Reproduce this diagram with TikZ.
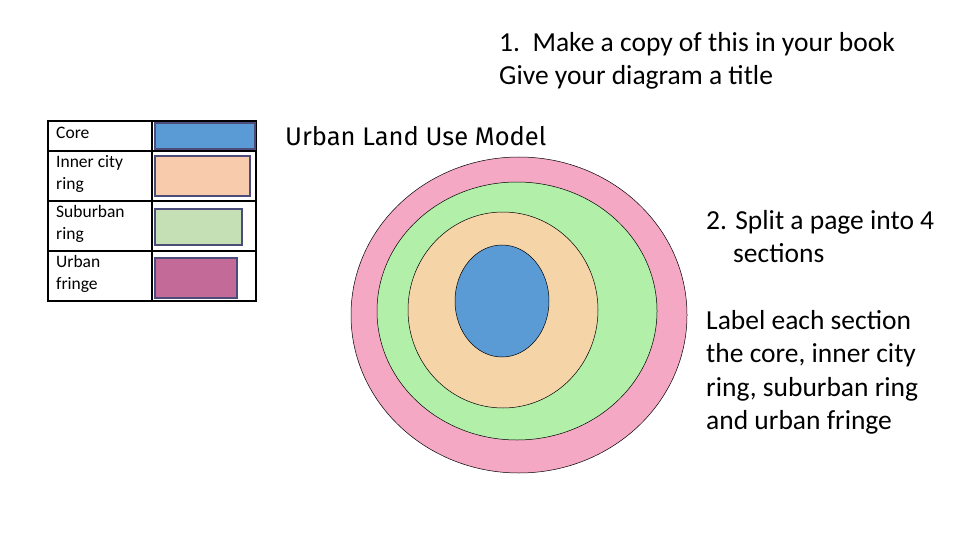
\documentclass[tikz,border=0pt]{standalone}
\usepackage{fontspec}
\setmainfont{Carlito}
\newfontfamily\titlefont{Fira Sans}
\begin{document}
\begin{tikzpicture}[x=1pt,y=-1pt,
  sw/.style={draw=black!55!blue!40!gray,line width=1.5pt},
  ring/.style={draw=black,line width=0.5pt},
  lg/.style={anchor=north west,font=\fontsize{17.5}{22}\selectfont,align=left,inner sep=0pt},
  big/.style={anchor=north west,font=\fontsize{27.5}{33.5}\selectfont,align=left,inner sep=0pt}]
\useasboundingbox (0,0) rectangle (960,540);
% legend
\draw[line width=1.2pt] (48,121) rectangle (256,301);
\draw[line width=1.2pt] (152,121) -- (152,301);
\foreach \yy in {151,201,251} \draw[line width=1.2pt] (48,\yy) -- (256,\yy);
\draw[sw,fill={rgb,255:red,91;green,155;blue,213}] (155,123) rectangle (255,149);
\draw[sw,fill={rgb,255:red,247;green,203;blue,172}] (155,156) rectangle (250,196);
\draw[sw,fill={rgb,255:red,197;green,224;blue,180}] (155,209) rectangle (242,245);
\draw[sw,fill={rgb,255:red,196;green,106;blue,152}] (155,258) rectangle (237,298);
\node[lg] (l1) at (56,127) {Core};
\node[lg] (l2) at (56,155) {Inner city\\ring};
\node[lg] (l3) at (56,205) {Suburban\\ring};
\node[lg] (l4) at (56,255) {Urban\\fringe};
% rings
\draw[ring,fill={rgb,255:red,245;green,168;blue,196}] (519,315) ellipse [x radius=168,y radius=158];
\draw[ring,fill={rgb,255:red,178;green,240;blue,170}] (517,311) ellipse [x radius=140,y radius=129];
\draw[ring,fill={rgb,255:red,245;green,212;blue,168}] (503,310) ellipse [x radius=95,y radius=98];
\draw[ring,fill={rgb,255:red,91;green,155;blue,213}] (502,301) ellipse [x radius=47,y radius=56];
% texts
\node[anchor=north west,inner sep=0pt,font=\titlefont\fontsize{25.5}{30}\selectfont] (t) at (285,126) {Urban Land Use Model};
\node[big] (q1) at (499,32) {1.\ \ Make a copy of this in your book\\Give your diagram a title};
\node[big] (q2) at (706,210) {2. Split a page into 4\\\hspace*{27pt}sections};
\node[big] (q3) at (706,310) {Label each section\\the core, inner city\\ring, suburban ring\\and urban fringe};
\end{tikzpicture}
\end{document}
